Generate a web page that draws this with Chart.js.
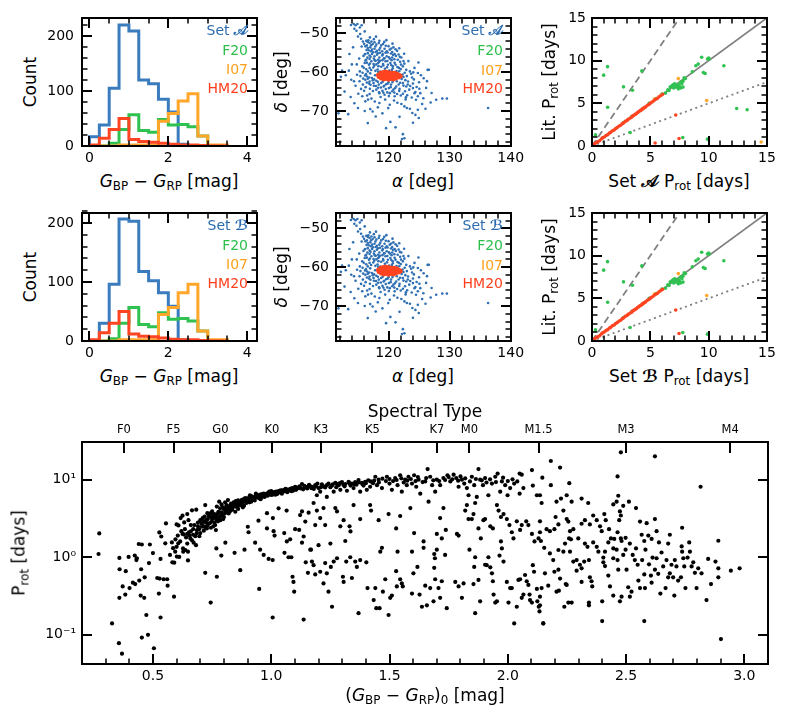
<!DOCTYPE html>
<html><head><meta charset="utf-8">
<script src="https://cdn.jsdelivr.net/npm/chart.js@4.4.1/dist/chart.umd.min.js"></script>
<style>
html,body{margin:0;padding:0;background:#fff;}
#wrap{position:relative;width:790px;height:725px;overflow:hidden;background:#fff;font-family:'DejaVu Sans',sans-serif;}
canvas{position:absolute;}
.t{position:absolute;white-space:nowrap;line-height:1;color:#000;font-size:17px;font-family:'DejaVu Sans',sans-serif;}
.c{transform:translate(-50%,-50%);}
.r{transform:translate(-100%,-50%);}
.v{transform:translate(-50%,-50%) rotate(-90deg);}
.lg{font-size:14px;}
.sc{font-family:'DejaVu Sans','DejaVu Serif','Noto Sans Math','Noto Sans',serif;font-weight:bold;}
sub{font-size:70%;vertical-align:-0.3em;line-height:0;}
.cb{color:#2b6cb0}.cg{color:#2cbf4b}.co{color:#ffa01c}.cr{color:#ff3f1c}
</style></head><body>
<div id="wrap">
<canvas id="hA" width="230" height="170" style="left:40px;top:0px"></canvas>
<canvas id="mA" width="240" height="170" style="left:290px;top:0px"></canvas>
<canvas id="pA" width="238" height="170" style="left:552px;top:0px"></canvas>
<canvas id="hB" width="230" height="170" style="left:40px;top:195px"></canvas>
<canvas id="mB" width="240" height="170" style="left:290px;top:195px"></canvas>
<canvas id="pB" width="238" height="170" style="left:552px;top:195px"></canvas>
<canvas id="bot" width="760" height="290" style="left:30px;top:410px"></canvas>

<div class="t v" style="left:30px;top:82px">Count</div>
<div class="t c" style="left:169px;top:181px"><i>G</i><sub>BP</sub> − <i>G</i><sub>RP</sub> [mag]</div>
<div class="t v" style="left:281px;top:82px"><i>δ</i> [deg]</div>
<div class="t c" style="left:423px;top:181px"><i>α</i> [deg]</div>
<div class="t v" style="left:549px;top:82px">Lit. P<sub>rot</sub> [days]</div>
<div class="t c" style="left:679px;top:181px">Set <span class="sc">𝒜</span> P<sub>rot</sub> [days]</div>
<div class="t r lg cb" style="left:248px;top:29.5px">Set <span class="sc">𝒜</span></div>
<div class="t r lg cg" style="left:248px;top:49.5px">F20</div>
<div class="t r lg co" style="left:248px;top:69px">I07</div>
<div class="t r lg cr" style="left:248px;top:87.5px">HM20</div>
<div class="t r lg cb" style="left:503px;top:30px">Set <span class="sc">𝒜</span></div>
<div class="t r lg cg" style="left:503px;top:50px">F20</div>
<div class="t r lg co" style="left:503px;top:70px">I07</div>
<div class="t r lg cr" style="left:503px;top:87.5px">HM20</div>

<div class="t v" style="left:30px;top:277px">Count</div>
<div class="t c" style="left:169px;top:376px"><i>G</i><sub>BP</sub> − <i>G</i><sub>RP</sub> [mag]</div>
<div class="t v" style="left:281px;top:277px"><i>δ</i> [deg]</div>
<div class="t c" style="left:423px;top:376px"><i>α</i> [deg]</div>
<div class="t v" style="left:549px;top:277px">Lit. P<sub>rot</sub> [days]</div>
<div class="t c" style="left:679px;top:376px">Set <span class="sc">ℬ</span> P<sub>rot</sub> [days]</div>
<div class="t r lg cb" style="left:248px;top:224.5px">Set <span class="sc">ℬ</span></div>
<div class="t r lg cg" style="left:248px;top:244.5px">F20</div>
<div class="t r lg co" style="left:248px;top:264px">I07</div>
<div class="t r lg cr" style="left:248px;top:282.5px">HM20</div>
<div class="t r lg cb" style="left:503px;top:225px">Set <span class="sc">ℬ</span></div>
<div class="t r lg cg" style="left:503px;top:245px">F20</div>
<div class="t r lg co" style="left:503px;top:265px">I07</div>
<div class="t r lg cr" style="left:503px;top:282.5px">HM20</div>

<div class="t c" style="left:425px;top:411px">Spectral Type</div>
<div class="t c" style="left:425px;top:695px">(<i>G</i><sub>BP</sub> − <i>G</i><sub>RP</sub>)<sub>0</sub> [mag]</div>
<div class="t v" style="left:19px;top:553px">P<sub>rot</sub> [days]</div>
</div>
<script>
// ---------------- DATA ----------------
const HIST_EDGES = [0,0.25,0.5,0.75,1,1.25,1.5,1.75,2,2.25,2.5,2.75,3,3.25,3.5];
const HIST_A_SET  = [17,38,105,220,209,120,113,85,62,3,0,0,0,0];
const HIST_A_F20  = [0,0,5,30,57,28,25,48,38,39,35,18,0,0];
const HIST_A_I07  = [0,0,0,2,2,2,2,45,59,82,95,18,2,2];
const HIST_A_HM20 = [2,14,30,50,12,8,7,5,3,2,2,1,0,0];
const HIST_B_SET  = [0,30,96,207,203,118,102,82,59,2,0,0,0,0];
const HIST_B_F20  = [0,0,4,30,57,28,24,48,37,38,34,17,0,0];
const HIST_B_I07  = [0,0,0,2,2,2,2,45,57,82,96,17,2,2];
const HIST_B_HM20 = [2,14,30,50,12,8,7,5,3,2,2,1,0,0];

// RA, Dec of the sample stars
const SET_RADEC_1 = [[114.3,-47.6],[114.6,-47.9],[114.9,-47.6],[115.3,-48.5],[115.6,-47.9],[114.4,-48.8],[116.1,-49.5],[115.0,-50.8],[115.5,-51.4],[115.8,-52.1],[116.35,-51.9],[116.6,-52.2],[116.9,-52.5],[117.2,-52.1],[117.4,-52.75],[117.7,-52.3],[118.0,-52.9],[118.4,-52.5],[118.8,-53.1],[119.1,-52.75],[116.2,-53.35],[116.6,-53.8],[117.0,-53.6],[117.3,-54.2],[117.7,-53.95],[118.1,-54.5],[118.5,-54.2],[118.97,-54.6],[119.35,-53.95],[119.7,-54.6],[120.2,-54.2],[120.6,-54.8],[121.0,-55.3],[116.6,-55.1],[116.9,-55.7],[117.3,-55.3],[117.7,-55.9],[118.1,-55.5],[118.5,-56.2],[118.97,-55.7],[119.35,-56.4],[119.7,-55.9],[120.2,-56.5],[120.6,-56.2],[121.5,-56.8],[122.1,-56.2],[116.35,-56.8],[116.1,-57.65],[115.7,-58.5],[115.3,-59.8],[116.8,-58.1],[117.2,-57.2],[117.55,-57.9],[117.9,-57.05],[118.3,-57.65],[118.6,-57.05],[119.1,-57.9],[119.5,-57.2],[119.9,-58.1],[120.3,-57.65],[120.7,-58.5],[121.15,-58.1],[121.7,-58.9],[122.35,-58.5],[122.9,-59.4],[123.5,-59.8],[124.25,-58.9],[124.8,-60.2],[125.3,-60.8],[126.4,-59.4],[116.9,-58.9],[116.6,-59.8],[116.5,-61.1],[116.2,-61.95],[116.9,-62.4],[117.3,-61.5],[117.55,-62.8],[118.0,-62.2],[118.4,-63.2],[118.8,-62.8],[119.2,-63.7],[119.6,-63.1],[120.05,-64.1],[120.4,-63.2],[120.8,-64.5],[121.25,-63.7],[121.8,-64.3],[122.35,-62.8],[122.9,-63.7],[123.4,-64.5],[124.0,-64.1],[124.4,-65.1],[124.8,-66.2],[125.2,-65.4],[125.7,-66.7],[124.5,-67.1],[118.0,-64.5],[118.5,-65.4],[119.35,-65.8],[120.2,-65.4],[121.0,-66.2],[115.8,-63.2],[115.5,-64.3],[115.7,-66.2],[116.5,-66.0],[116.9,-65.6],[116.2,-67.5],[113.9,-61.95],[113.5,-59.6],[115.0,-69.2],[113.4,-70.8],[116.6,-73.1],[117.4,-70.1],[117.9,-71.4],[119.6,-74.4],[121.15,-74.2],[122.35,-75.95],[122.6,-77.0],[122.2,-77.2],[122.6,-68.8],[123.0,-69.2],[123.5,-69.4],[124.4,-71.0],[124.95,-71.8],[126.05,-69.4],[124.25,-65.4],[124.8,-69.7],[127.8,-67.1],[128.8,-66.8],[129.55,-66.8],[136.3,-69.2],[126.6,-59.4],[122.1,-68.2],[120.2,-68.4],[118.5,-67.95],[111.8,-70.6],[114.0,-58.0],[112.4,-59.6]];
const SET_RADEC_2 = [[117.5,-58.8],[118.2,-59.3],[118.8,-58.6],[119.4,-59.1],[120.1,-59.6],[120.7,-59.0],[121.3,-59.7],[117.0,-60.3],[117.8,-60.8],[118.5,-61.4],[119.2,-62.0],[120.0,-62.6],[120.8,-62.0],[121.6,-61.3],[122.3,-60.6],[116.3,-60.5],[116.8,-62.9],[117.6,-63.5],[118.3,-64.0],[119.0,-64.8],[119.8,-65.2],[120.6,-64.9],[121.4,-65.6],[122.0,-66.0],[116.0,-64.8],[117.2,-66.8],[118.7,-66.4],[120.9,-67.3],[122.8,-67.0],[123.8,-66.5],[123.2,-62.4],[124.0,-62.9],[124.6,-63.8],[125.0,-62.6],[123.0,-61.0],[123.7,-60.4],[122.6,-57.8],[121.9,-57.3],[121.2,-55.8],[120.4,-55.2],[119.5,-55.0],[118.6,-55.0],[117.9,-54.8],[117.1,-54.6],[116.4,-54.3],[115.9,-55.8],[116.2,-57.0],[116.9,-56.6],[117.6,-56.5],[118.3,-56.8],[119.0,-56.9],[119.8,-57.1],[120.5,-56.9],[121.0,-57.6],[115.6,-53.4],[116.0,-52.7],[116.7,-51.8],[117.6,-51.5],[118.5,-51.9],[119.3,-52.2],[120.0,-53.3],[120.8,-53.6],[121.4,-54.5],[115.2,-56.5],[114.8,-58.0],[115.4,-61.0],[114.6,-63.5],[113.0,-60.8],[112.2,-61.2],[112.8,-65.0],[113.8,-66.4],[114.4,-68.0],[117.0,-69.5],[119.0,-70.6],[121.8,-71.5],[120.3,-72.8],[123.9,-70.5],[125.5,-68.2],[126.9,-67.8],[124.0,-73.0],[116.1,-70.0],[118.3,-59.9],[119.7,-60.3],[121.9,-62.7],[120.4,-61.9],[117.4,-62.1],[116.6,-61.7],[122.7,-64.9],[119.3,-63.5],[118.0,-58.0],[122.0,-59.2],[113.6,-55.3],[114.2,-53.6],[124.9,-57.5],[126.3,-62.3]];
const SET_RADEC_3 = [[116.45,-53.1],[117.15,-53.05],[117.85,-53.4],[118.65,-53.7],[119.55,-53.2],[120.45,-53.9],[121.15,-54.1],[116.75,-54.35],[117.45,-54.85],[118.25,-55.15],[119.05,-55.35],[119.85,-54.95],[120.75,-55.55],[121.65,-55.45],[116.15,-55.35],[116.55,-56.25],[117.05,-56.05],[117.75,-56.95],[118.45,-57.35],[119.25,-56.45],[120.05,-56.15],[120.95,-56.65],[121.85,-56.05],[122.45,-57.15],[116.45,-57.55],[116.95,-57.75],[117.65,-58.35],[118.35,-58.45],[119.15,-58.25],[119.75,-58.75],[120.45,-58.15],[121.45,-58.65],[122.05,-58.05],[115.95,-58.85],[116.35,-59.25],[117.15,-59.45],[117.85,-59.65],[118.65,-59.85],[120.55,-59.45],[121.75,-59.75],[122.65,-60.15],[115.75,-60.15],[116.15,-60.85],[116.85,-61.35],[117.65,-61.85],[118.25,-62.45],[119.05,-62.45],[119.85,-62.95],[120.65,-62.55],[121.35,-62.35],[122.15,-61.75],[122.75,-62.05],[115.85,-61.65],[116.45,-62.65],[117.05,-63.25],[117.95,-63.55],[118.75,-63.95],[119.55,-64.35],[120.35,-63.85],[121.05,-64.15],[121.65,-63.15],[122.45,-63.45],[123.15,-63.15],[116.25,-63.85],[116.95,-64.25],[117.45,-64.85],[118.45,-65.15],[119.15,-65.25],[120.05,-66.15],[120.95,-65.25],[121.75,-64.85],[122.35,-65.55],[123.05,-65.95],[123.55,-63.55],[124.15,-61.85],[123.85,-61.35],[122.45,-61.25],[115.25,-62.35],[114.85,-60.65],[114.35,-62.35],[115.05,-65.55],[116.65,-67.05],[117.75,-67.55],[119.45,-67.05],[121.45,-67.85],[119.95,-69.25],[118.25,-69.05],[116.95,-51.05],[115.35,-50.15],[114.75,-49.35],[113.85,-47.85],[117.95,-50.85],[119.65,-51.75],[120.65,-52.65],[121.75,-53.85],[122.55,-55.25],[123.25,-57.15],[124.05,-60.05],[125.75,-61.55],[126.15,-64.05],[127.05,-65.35],[125.05,-64.25],[122.85,-66.45]];
const SET_RADEC = SET_RADEC_1.concat(SET_RADEC_2, SET_RADEC_3);
const HM20_RADEC = [[118.6,-60.9],[118.9,-60.4],[119.0,-61.3],[119.3,-60.6],[119.5,-61.1],[119.7,-60.3],[119.9,-61.5],[120.1,-60.8],[120.3,-61.2],[120.5,-60.5],[120.7,-61.0],[120.9,-61.4],[121.1,-60.7],[121.3,-61.1],[121.5,-60.9],[118.8,-61.6],[119.2,-61.8],[119.6,-61.7],[120.0,-61.9],[120.4,-61.7],[120.8,-61.8],[121.2,-61.6],[119.1,-60.0],[119.5,-59.9],[119.9,-60.0],[120.3,-60.1],[120.7,-60.2],[121.0,-60.2],[118.4,-61.2],[121.7,-61.3],[121.8,-60.8],[118.7,-60.2],[119.4,-61.4],[119.8,-60.7],[120.2,-60.4],[120.6,-61.5],[121.0,-61.2],[122.0,-61.0],[118.3,-60.7],[121.4,-60.4]];

// [this work P_rot, literature P_rot]
const HM20_PROT_A = [[0.15,0.2],[0.25,0.3],[0.4,0.42],[0.5,0.5],[0.65,0.62],[0.8,0.82],[0.9,0.95],[1.05,1.05],[1.2,1.22],[1.35,1.33],[1.5,1.52],[1.6,1.6],[1.75,1.78],[1.9,1.88],[2.0,2.02],[2.15,2.15],[2.3,2.32],[2.45,2.43],[2.6,2.62],[2.7,2.7],[2.85,2.88],[3.0,2.98],[3.1,3.12],[3.25,3.25],[3.4,3.38],[3.5,3.55],[3.6,3.6],[3.7,3.72],[3.8,3.78],[3.9,3.92],[4.0,4.0],[4.1,4.12],[4.2,4.18],[4.3,4.32],[4.4,4.4],[4.5,4.52],[4.6,4.58],[4.75,4.77],[4.9,4.88],[5.0,5.02],[5.15,5.15],[5.3,5.3],[5.45,5.48],[5.6,5.58],[5.75,5.78],[5.9,5.92],[6.05,6.05],[0.1,0.05],[0.2,0.1],[7.18,3.64],[7.46,0.88],[5.41,0.36]];
const HM20_PROT_B = HM20_PROT_A.filter(p => p[0] !== 5.41);
const I07_PROT_A = [[7.4,7.9],[9.83,5.34],[14.5,0.47],[5.35,5.5],[4.4,4.45]];
const I07_PROT_B = [[7.4,7.9],[9.83,5.34],[5.35,5.5],[4.4,4.45]];
const F20_PROT_A = [[2.7,2.75],[3.4,3.45],[4.3,4.3],[4.9,5.0],[5.5,5.55],[6.0,6.1],[6.3,6.2],[6.5,6.6],[6.7,6.9],[6.9,7.1],[7.0,6.8],[7.1,7.3],[7.2,6.9],[7.3,7.0],[7.4,6.7],[7.5,7.0],[7.6,6.8],[7.7,7.3],[7.8,7.6],[7.9,8.0],[8.0,7.9],[7.4,7.2],[7.0,7.2],[6.8,7.0],[6.6,6.5],[7.6,7.5],[7.8,6.9],[8.6,8.7],[8.9,9.4],[9.1,9.6],[9.4,10.4],[9.55,8.6],[9.7,8.5],[9.9,10.2],[10.05,10.2],[10.0,10.3],[1.33,9.3],[1.0,8.3],[1.34,4.54],[2.7,6.93],[3.47,6.53],[4.27,8.8],[3.27,1.58],[0.3,1.3],[7.78,1.0],[9.9,0.8],[11.3,9.4],[12.4,4.4],[13.3,4.25]];
const F20_PROT_B = F20_PROT_A.filter(p => p[0] < 12);

// [(BP-RP)0, P_rot]
const STARS_FGK = [[0.273,2.03],[0.27,1.1],[0.327,0.14],[0.358,0.98],[0.359,0.70],[0.385,0.66],[0.397,1.01],[0.372,0.42],[0.383,0.33],[0.358,0.30],[0.401,0.40],[0.415,0.47],[0.425,0.45],[0.423,1.05],[0.432,0.97],[0.43,0.92],[0.44,1.48],[0.453,1.46],[0.442,0.50],[0.45,0.70],[0.465,0.55],[0.448,0.32],[0.463,0.30],[0.472,0.18],[0.356,0.078],[0.369,0.057],[0.453,0.092],[0.479,0.10],[0.504,0.067],[0.487,1.46],[0.483,0.84],[0.5,1.13],[0.532,0.95],[0.518,0.54],[0.528,0.53],[0.545,0.52],[0.56,0.52],[0.562,0.43],[0.525,0.34],[0.532,0.167],[0.589,0.31],[0.527,2.09],[0.535,1.85],[0.555,2.73],[0.552,1.51],[0.572,1.07],[0.582,0.86],[0.59,0.85],[0.585,1.31],[0.594,1.18],[0.6,1.36],[0.601,1.02],[0.607,1.51],[0.611,1.01],[0.6,2.65],[0.608,2.57],[0.617,3.2],[0.625,3.43],[0.632,2.81],[0.645,3.6],[0.65,3.0],[0.665,4.02],[0.683,4.1],[0.62,2.17],[0.63,1.97],[0.64,1.8],[0.645,2.0],[0.652,2.1],[0.658,1.75],[0.665,1.65],[0.672,1.54],[0.682,1.43],[0.627,1.3],[0.637,1.24],[0.648,1.18],[0.628,1.18],[0.648,0.91],[0.686,2.24],[0.696,1.87],[0.679,1.87],[0.707,2.47],[0.718,3.33],[0.724,2.81],[0.728,2.35],[0.732,3.1],[0.742,3.67],[0.721,4.71],[0.749,2.88],[0.756,3.22],[0.763,2.6],[0.766,2.24],[0.77,3.0],[0.777,3.86],[0.784,4.27],[0.78,5.2],[0.792,3.5],[0.797,3.1],[0.803,4.05],[0.811,4.71],[0.817,5.46],[0.82,3.67],[0.828,4.27],[0.834,4.7],[0.841,5.1],[0.848,3.86],[0.856,4.5],[0.862,5.2],[0.869,4.8],[0.876,5.5],[0.885,4.6],[0.89,5.3],[0.9,5.74],[0.908,5.1],[0.916,6.0],[0.924,5.5],[0.932,5.8],[0.941,6.34],[0.949,5.74],[0.961,6.5],[0.972,6.0],[0.982,6.6],[0.992,7.0],[1.003,6.34],[1.014,6.9],[1.024,6.5],[1.034,7.2],[1.045,6.6],[1.056,7.4],[1.068,6.9],[1.08,7.6],[1.092,7.2],[1.101,8.1],[1.115,7.8],[1.13,8.8],[1.141,7.9],[1.158,8.3],[1.169,7.8],
[0.721,0.63],[0.744,0.26],[0.77,0.56],[0.789,1.05],[0.768,1.3],[0.806,1.54],[0.845,1.14],[0.869,0.68],[0.887,1.25],[0.901,2.47],[0.904,2.1],[0.932,1.54],[0.946,2.96],[0.949,0.39],[0.953,1.25],[0.968,1.07],[0.982,2.35],[0.982,3.7],[0.989,0.95],[1.006,0.167],[1.006,0.92],[1.007,3.2],[1.01,2.17],[1.014,1.9],[1.031,4.27],[1.055,2.05],[1.056,1.14],[1.066,1.6],[1.073,1.0],[1.08,1.7],[1.09,0.56],[1.094,0.48],[1.097,0.36],[1.101,2.3],[1.118,2.25],[1.122,3.5],[1.13,1.54],[1.137,0.157],[1.137,1.85],[1.144,2.88],[1.146,0.86],[1.155,0.63],[1.158,3.75],[1.168,1.25],[1.085,1.0],[1.065,4.0],[1.13,3.9],
[0.70,3.0],[0.71,2.6],[0.735,2.7],[0.745,3.3],[0.755,2.5],[0.76,3.6],[0.775,2.9],[0.785,3.4],[0.795,4.4],[0.80,3.3],[0.81,3.9],[0.815,4.3],[0.825,3.9],[0.83,4.9],[0.835,4.1],[0.845,4.6],[0.85,5.3],[0.86,4.2],[0.865,4.9],[0.875,5.0],[0.88,4.4],[0.895,5.0],[0.905,5.5],[0.915,5.2],[0.92,5.9],[0.93,5.4],[0.94,6.0],[0.95,6.2],[0.955,5.6],[0.965,6.1],[0.975,6.5],[0.985,6.2],[0.995,6.6],[1.0,7.1],[1.01,6.6],[1.02,7.0],[1.03,6.8],[1.04,7.3],[1.05,7.0],[1.06,7.6],[1.07,7.2],[1.085,7.1],[1.095,7.7],[1.105,7.4],[1.12,8.2],[1.135,7.5],[1.15,8.0],[1.16,8.6],[0.67,2.3],[0.66,2.6],[0.69,2.5],[0.715,2.2],[0.73,3.7],[0.75,3.9],[0.77,4.5],[0.79,4.8],[0.805,5.1],[0.89,5.8],[0.91,6.3],[0.935,6.6]];
const STARS_BAND = [[0.58,1.55],[0.595,1.7],[0.605,1.9],[0.615,1.6],[0.625,2.0],[0.635,2.3],[0.645,1.5],[0.655,1.9],[0.66,2.15],[0.67,1.95],[0.675,2.6],[0.685,2.05],[0.69,2.8],[0.695,2.3],[0.70,2.05],[0.705,2.7],[0.71,3.2],[0.715,2.9],[0.72,2.45],[0.725,3.0],[0.73,2.55],[0.735,3.4],[0.74,2.75],[0.745,2.4],[0.75,3.1],[0.755,3.5],[0.76,2.8],[0.765,3.2],[0.77,3.45],[0.775,3.7],[0.78,3.2],[0.785,3.0],[0.79,3.8],[0.795,3.4],[0.80,4.2],[0.805,3.7],[0.81,4.5],[0.815,3.9],[0.82,4.3],[0.825,4.6],[0.83,4.1],[0.838,4.4],[0.843,5.0],[0.85,4.5],[0.855,4.8],[0.86,5.4],[0.868,4.7],[0.872,5.2],[0.88,5.1],[0.884,5.6],[0.893,5.2],[0.898,5.5],[0.906,5.8],[0.912,5.4],[0.918,6.1],[0.926,5.7],[0.933,6.1],[0.944,5.9],[0.953,6.4],[0.96,6.0],[0.968,6.6],[0.978,6.3],[0.988,6.8],[0.997,6.4],[1.007,6.8],[1.017,6.4],[1.027,7.0],[1.037,6.9],[1.047,7.3],[1.058,7.1],[1.065,7.5],[1.075,7.4],[1.088,7.8],[1.098,7.5],[1.11,7.9],[1.125,7.7],[1.14,8.3],[1.152,7.7],[1.165,8.2],[1.19,8.2],[1.21,8.0],[1.235,8.5],[1.26,8.7],[1.28,8.8],[1.305,8.6],[1.33,9.0],[1.35,8.7],[1.37,9.2],[1.385,8.8],[1.4,9.0],[1.42,9.5],[1.435,9.7],[1.455,9.2],[1.47,10.3],[1.485,9.6],[1.5,10.2],[1.515,9.6],[1.53,9.9],[1.55,10.4],[1.56,9.2],[1.575,9.7],[1.59,10.2],[1.61,9.6],[1.62,10.8],[1.64,9.3],[1.655,10.5],[1.685,9.8],[1.71,9.6],[1.735,9.9],[1.75,10.8],[1.765,10.1],[1.79,9.7],[1.8,11.0],[1.82,10.4],[1.84,9.5],[1.865,10.2],[1.89,9.8],[1.91,9.2],[1.925,10.1],[1.95,9.3],[1.98,10.6],[2.0,9.6],[2.02,10.1],[2.04,9.5]];
const STARS_K = [[1.172,8.1],[1.186,8.5],[1.2,7.8],[1.214,8.7],[1.228,7.95],[1.242,8.9],[1.257,8.4],[1.271,9.1],[1.285,8.5],[1.299,9.3],[1.313,8.8],[1.327,9.4],[1.341,8.9],[1.355,9.3],[1.369,9.9],[1.383,9.1],[1.397,9.4],[1.193,6.3],[1.207,7.0],[1.235,6.0],[1.264,7.0],[1.292,7.4],[1.32,7.2],[1.348,7.8],[1.376,7.0],[1.404,7.4],[1.418,8.1],[1.18,7.6],[1.195,8.9],[1.22,8.2],[1.25,8.0],[1.275,8.0],[1.29,9.0],[1.31,8.2],[1.335,8.4],[1.36,8.6],[1.39,8.4],[1.41,9.8],[1.43,9.0],
[1.44,10.9],[1.454,10],[1.447,8.5],[1.468,7.8],[1.489,10.9],[1.5,8.9],[1.51,7.4],[1.524,10.5],[1.534,8.5],[1.545,11.4],[1.552,7.0],[1.566,10],[1.573,8.5],[1.58,10.9],[1.595,8.9],[1.604,11.4],[1.613,8.1],[1.623,10],[1.63,6.6],[1.661,13.7],[1.651,9.5],[1.672,10.9],[1.68,8.5],[1.693,7.0],[1.7,10],[1.714,8.5],[1.728,10.5],[1.745,11.4],[1.757,9.5],[1.771,11.6],[1.782,10.5],[1.792,8.1],[1.806,10],[1.816,8.9],[1.827,7.8],[1.834,6.3],[1.848,10.9],[1.858,8.5],[1.869,6.0],[1.876,13.7],[1.883,10],[1.895,8.5],[1.904,10.5],[1.918,6.3],[1.933,8.9],[1.947,10.9],[1.957,12],[1.968,7.0],[1.975,9.5],[1.989,8.5],[1.999,6.3],[2.01,7.8],[2.027,8.9],[2.05,12],[2.059,11.6],[2.05,6.6],[2.066,7.8],[2.102,13.3],[2.106,8.4],[2.123,6.3],
[1.179,5.0],[1.193,4.0],[1.221,4.3],[1.207,3.2],[1.186,2.6],[1.228,2.6],[1.271,4.3],[1.278,3.9],[1.306,3.0],[1.292,2.5],[1.331,2.5],[1.335,2.15],[1.348,4.7],[1.376,3.1],[1.418,4.7],[1.422,4.0],[1.454,3.0],[1.496,3.6],[1.528,2.35],[1.545,3.4],[1.588,4.3],[1.604,2.05],[1.665,5.2],[1.7,2.0],[1.714,3.2],[1.721,1.75],[1.728,4.3],[1.738,2.25],[1.785,2.0],[1.792,1.9],[1.82,4.0],[1.827,4.7],[1.834,3.1],[1.848,3.1],[1.855,3.6],[1.862,5.0],[1.876,2.35],[1.886,1.75],[1.897,3.0],[1.904,3.1],[1.926,2.5],[1.937,2.35],[1.954,4.7],[1.961,4.0],[1.971,3.3],[1.982,3.6],[1.996,3.1],[2.007,2.6],[2.017,2.1],[2.024,1.75],[2.038,2.9],[2.052,2.25],[2.059,2.6],[2.078,2.9],[2.087,2.6],[2.102,2.0],[2.113,1.6],[2.13,1.75],
[1.165,1.25],[1.172,0.88],[1.186,0.6],[1.179,0.79],[1.2,1.43],[1.207,0.65],[1.221,0.46],[1.228,0.84],[1.235,0.62],[1.242,0.36],[1.25,1.5],[1.252,0.75],[1.257,0.23],[1.264,0.88],[1.278,0.97],[1.303,0.56],[1.306,0.48],[1.313,1.62],[1.317,0.88],[1.334,1.0],[1.341,0.54],[1.355,0.88],[1.362,0.75],[1.369,0.19],[1.376,0.92],[1.402,0.86],[1.407,0.4],[1.433,0.28],[1.44,0.4],[1.444,0.22],[1.458,0.22],[1.461,1.18],[1.468,1.32],[1.472,0.36],[1.482,0.52],[1.496,0.18],[1.503,0.3],[1.51,0.32],[1.528,0.66],[1.531,0.42],[1.534,1.18],[1.545,0.52],[1.552,0.46],[1.556,0.42],[1.595,1.18],[1.595,0.34],[1.601,0.62],[1.618,0.75],[1.627,0.33],[1.637,0.23],[1.644,1.6],[1.644,1.32],[1.651,0.43],[1.658,0.24],[1.672,0.4],[1.689,1.1],[1.692,0.97],[1.689,0.73],[1.686,0.27],[1.693,0.52],[1.7,1.25],[1.707,0.4],[1.714,0.3],[1.721,0.49],[1.735,1.07],[1.742,0.22],[1.778,0.48],[1.792,0.42],[1.806,0.3],[1.813,0.46],[1.838,1.25],[1.855,0.45],[1.858,0.75],[1.862,1.0],[1.862,0.19],[1.876,0.51],[1.883,0.27],[1.904,0.8],[1.911,0.79],[1.918,1.0],[1.926,0.74],[1.933,0.62],[1.937,0.49],[1.94,0.33],[1.947,0.26],[1.954,0.27],[1.965,1.05],[1.971,1.6],[1.975,1.3],[1.982,0.88],[1.996,0.48],[2.003,0.26],[2.01,0.4],[2.017,0.4],[2.027,0.14],[2.038,0.23],[2.045,0.51],[2.052,0.52],[2.059,0.3],[2.066,0.33],[2.073,0.59],[2.08,0.49],[2.087,0.44],[2.092,0.33],[2.094,0.28],[2.102,0.26],[2.106,0.79],[2.111,0.65],[2.123,0.39],[2.125,0.27],[2.131,0.23],[2.134,0.2],[2.15,0.14]];
const STARS_M = [[2.478,22.5],[2.622,20],[2.182,17.4],[2.221,14.3],[2.146,10.6],[2.464,11.0],[2.815,8.1],[2.182,8.5],[2.26,9.0],[2.136,6.3],[2.143,5.0],[2.206,5.2],[2.225,5.7],[2.249,6.3],[2.27,5.2],[2.312,5.7],[2.34,5.0],[2.446,4.8],[2.467,6.2],[2.46,5.2],[2.488,4.6],[2.512,5.2],[2.542,4.3],[2.474,3.9],[2.478,3.45],[2.471,3.0],[2.235,4.0],[2.136,2.9],[2.136,2.1],[2.164,2.3],[2.178,2.17],[2.197,2.3],[2.202,3.3],[2.214,2.65],[2.249,3.1],[2.256,2.88],[2.263,2.17],[2.277,2.3],[2.259,1.75],[2.267,1.7],[2.298,1.75],[2.312,2.7],[2.326,3.0],[2.347,2.65],[2.361,3.45],[2.376,3.0],[2.39,2.5],[2.397,2.17],[2.408,3.6],[2.414,3.0],[2.428,2.3],[2.436,1.75],[2.45,1.72],[2.464,2.1],[2.478,1.75],[2.498,1.78],[2.516,1.5],[2.559,2.88],[2.587,2.75],[2.622,3.1],[2.594,1.9],[2.608,1.72],[2.629,2.17],[2.566,1.95],[2.577,1.62],[2.685,1.95],[2.678,1.5],[2.737,2.4],[2.735,1.38],[2.767,1.55],[2.89,1.63],[2.14,1.62],[2.154,1.32],[2.178,1.12],[2.192,0.92],[2.214,1.24],[2.235,1.18],[2.242,1.5],[2.263,1.18],[2.214,0.69],[2.221,0.53],[2.197,0.65],[2.157,0.62],[2.171,0.43],[2.143,0.4],[2.136,0.31],[2.136,0.24],[2.206,0.36],[2.216,0.37],[2.245,0.45],[2.249,0.44],[2.239,0.23],[2.256,0.26],[2.27,0.26],[2.277,0.88],[2.291,0.92],[2.291,0.67],[2.305,0.8],[2.312,0.72],[2.323,0.88],[2.312,0.48],[2.343,0.92],[2.347,0.55],[2.354,0.49],[2.357,0.42],[2.343,0.26],[2.343,0.24],[2.337,1.36],[2.361,1.55],[2.376,1.36],[2.383,1.18],[2.404,0.99],[2.404,0.86],[2.411,0.77],[2.399,0.27],[2.399,0.15],[2.425,0.58],[2.432,0.42],[2.446,0.32],[2.446,1.3],[2.46,1.25],[2.464,0.92],[2.467,0.69],[2.474,0.27],[2.481,0.31],[2.488,1.07],[2.498,1.25],[2.502,0.69],[2.509,0.41],[2.516,0.31],[2.523,0.36],[2.528,1.07],[2.537,0.92],[2.542,1.3],[2.549,0.8],[2.552,0.5],[2.559,0.4],[2.568,0.92],[2.577,0.6],[2.58,0.4],[2.582,1.25],[2.597,0.81],[2.605,0.58],[2.608,0.47],[2.612,0.99],[2.622,0.69],[2.629,0.97],[2.636,0.61],[2.639,1.55],[2.645,0.34],[2.65,1.15],[2.657,0.76],[2.667,0.4],[2.671,0.92],[2.678,0.55],[2.685,0.62],[2.692,0.8],[2.699,0.55],[2.704,0.32],[2.706,0.92],[2.713,0.76],[2.72,0.5],[2.732,0.55],[2.737,1.18],[2.742,0.97],[2.746,0.76],[2.751,0.4],[2.76,0.99],[2.77,1.18],[2.777,0.76],[2.784,0.86],[2.791,0.63],[2.798,0.4],[2.805,0.72],[2.819,0.62],[2.84,0.28],[2.847,0.95],[2.859,0.45],[2.878,0.88],[2.89,0.72],[2.89,0.55],[2.901,0.088],[2.943,0.67],[2.98,0.72],[2.577,0.15],[2.15,0.14],[2.326,1.5],[2.411,1.18],[2.425,1.55],[2.481,1.62],[2.446,0.97]];
const BOTTOM_STARS = STARS_FGK.concat(STARS_BAND, STARS_K, STARS_M);

const SPT_POS = [0.377,0.587,0.785,1.003,1.21,1.428,1.70,1.838,2.13,2.50,2.94];
const SPT_NAMES = ['F0','F5','G0','K0','K3','K5','K7','M0','M1.5','M3','M4'];
const REF_SLOPES = [1, 2, 0.5];

// tick positions
const HIST_XMAJ = [0,2,4], HIST_XMIN = [0.5,1,1.5,2.5,3,3.5];
const HIST_YMAJ = [0,100,200], HIST_YMIN = [20,40,60,80,120,140,160,180,220];
const MAP_XMAJ = [120,130,140], MAP_XMIN = [112,114,116,118,122,124,126,128,132,134,136,138];
const MAP_YMAJ = [-50,-60,-70], MAP_YMIN = [-48,-52,-54,-56,-58,-62,-64,-66,-68,-72,-74,-76,-78];
const PR_MAJ = [0,5,10,15], PR_MIN = [1,2,3,4,6,7,8,9,11,12,13,14];
const BOT_XMAJ = [0.5,1.0,1.5,2.0,2.5,3.0];
const BOT_XMIN = [0.3,0.4,0.6,0.7,0.8,0.9,1.1,1.2,1.3,1.4,1.6,1.7,1.8,1.9,2.1,2.2,2.3,2.4,2.6,2.7,2.8,2.9];
const BOT_YMAJ = [0.1,1,10], BOT_YLAB = ['10\u207B\u00B9','10\u2070','10\u00B9'];

// ---------------- RENDER ----------------
const FONT = "'DejaVu Sans', sans-serif";
const C_BLUE = '#3a7cbd', C_BLUEPT = '#2f6fb3', C_GREEN = '#2fc250', C_ORANGE = '#ffa62b', C_RED = '#ff4422';
Chart.defaults.font.family = FONT;
Chart.defaults.color = '#000';
Chart.defaults.animation = false;

const inTicks = {
  id: 'inTicks',
  afterDraw(chart, args, o) {
    if (!o || !o.on) return;
    const ctx = chart.ctx, a = chart.chartArea, X = chart.scales.x, Y = chart.scales.y;
    ctx.save(); ctx.strokeStyle = '#000'; ctx.lineCap = 'butt';
    const MAJ = 10, MIN = 5.5;
    const segs = (list) => { ctx.beginPath(); list.forEach(s => { ctx.moveTo(s[0], s[1]); ctx.lineTo(s[2], s[3]); }); ctx.stroke(); };
    const xs = (vals, len, sides) => { const L = []; (vals||[]).forEach(v => { const p = Math.round(X.getPixelForValue(v)); if (sides.includes('b')) L.push([p, a.bottom, p, a.bottom - len]); if (sides.includes('t')) L.push([p, a.top, p, a.top + len]); }); return L; };
    const ys = (vals, len) => { const L = []; (vals||[]).forEach(v => { const p = Math.round(Y.getPixelForValue(v)); L.push([a.left, p, a.left + len, p]); L.push([a.right, p, a.right - len, p]); }); return L; };
    ctx.lineWidth = 2;
    segs([...xs(o.xMaj, MAJ, o.xSides), ...ys(o.yMaj, MAJ), ...xs(o.top, MAJ + 1, 't')]);
    ctx.lineWidth = 1.5;
    segs([...xs(o.xMin, MIN, o.xSides), ...ys(o.yMin, MIN)]);
    ctx.lineWidth = 2;
    ctx.strokeRect(a.left, a.top, a.right - a.left, a.bottom - a.top);
    ctx.restore();
  }
};
Chart.register(inTicks);

function fmtNum(v) { return (v < 0 ? '\u2212' : '') + Math.abs(v); }
function axis(o) {
  return {
    type: o.type || 'linear', position: o.position, min: o.min, max: o.max,
    grid: { display: false, drawTicks: false }, border: { display: false },
    afterBuildTicks: s => { s.ticks = o.ticks.map(v => ({ value: v })); },
    afterFit: s => { if (o.width !== undefined) s.width = o.width; if (o.height !== undefined) s.height = o.height; },
    ticks: { padding: o.pad, autoSkip: false, maxRotation: 0, minRotation: 0, color: '#000',
      font: { family: FONT, size: o.size || 14 },
      callback: o.labels ? ((v, i) => o.labels[i]) : (o.fmt || fmtNum) }
  };
}
function toXY(arr) { return arr.map(p => ({ x: p[0], y: p[1] })); }
function steps(counts) {
  const d = [{ x: HIST_EDGES[0], y: 0 }];
  counts.forEach((c, i) => d.push({ x: HIST_EDGES[i], y: c }));
  d.push({ x: HIST_EDGES[counts.length], y: 0 });
  return d;
}
function stepDs(counts, color, order) {
  return { data: steps(counts), showLine: true, stepped: true, borderColor: color, borderWidth: 3, pointRadius: 0, fill: false, order: order };
}
function dotDs(arr, color, r, order) {
  return { data: toXY(arr), backgroundColor: color, borderWidth: 0, pointRadius: r, pointHoverRadius: r, order: order };
}
function common(padRight, ticksOpt) {
  return { responsive: false, devicePixelRatio: 1, animation: false, events: [],
    layout: { padding: { left: 0, right: padRight, top: 18, bottom: 0 } },
    plugins: { legend: { display: false }, tooltip: { enabled: false }, inTicks: Object.assign({ on: true }, ticksOpt) } };
}

function histChart(id, set, f20, i07, hm20, ymax) {
  const opt = common(13, { xMaj: HIST_XMAJ, xMin: HIST_XMIN, xSides: 'bt', yMaj: HIST_YMAJ, yMin: HIST_YMIN });
  opt.scales = {
    x: axis({ position: 'bottom', min: -0.19, max: 4.25, ticks: HIST_XMAJ, pad: 4, height: 24 }),
    y: axis({ position: 'left', min: 0, max: ymax, ticks: HIST_YMAJ, pad: 8, width: 42 })
  };
  new Chart(document.getElementById(id), { type: 'scatter',
    data: { datasets: [stepDs(set, C_BLUE, 4), stepDs(f20, C_GREEN, 3), stepDs(i07, C_ORANGE, 2), stepDs(hm20, C_RED, 1)] }, options: opt });
}
function mapChart(id, pts, hm) {
  const opt = common(19, { xMaj: MAP_XMAJ, xMin: MAP_XMIN, xSides: 'bt', yMaj: MAP_YMAJ, yMin: MAP_YMIN });
  opt.scales = {
    x: axis({ position: 'bottom', min: 111.4, max: 140.05, ticks: MAP_XMAJ, pad: 4, height: 24 }),
    y: axis({ position: 'left', min: -79.0, max: -46.05, ticks: MAP_YMAJ, pad: 7, width: 46 })
  };
  new Chart(document.getElementById(id), { type: 'scatter',
    data: { datasets: [dotDs(pts, C_BLUEPT, 1.3, 2), dotDs(hm, C_RED, 2.2, 1)] }, options: opt });
}
function protChart(id, f20, i07, hm20) {
  const opt = common(23, { xMaj: PR_MAJ, xMin: PR_MIN, xSides: 'bt', yMaj: PR_MAJ, yMin: PR_MIN });
  opt.scales = {
    x: axis({ position: 'bottom', min: 0, max: 15, ticks: PR_MAJ, pad: 4, height: 24 }),
    y: axis({ position: 'left', min: 0, max: 15, ticks: PR_MAJ, pad: 6, width: 40 })
  };
  const styles = [[], [7, 4], [2, 3.5]];
  const refs = REF_SLOPES.map((m, i) => ({ data: [{ x: 0, y: 0 }, { x: 15, y: 15 * m }], showLine: true, borderColor: '#808080', borderWidth: 1.8, borderDash: styles[i], pointRadius: 0, order: 10 }));
  new Chart(document.getElementById(id), { type: 'scatter',
    data: { datasets: [...refs, dotDs(f20, C_GREEN, 1.8, 3), dotDs(i07, C_ORANGE, 1.8, 2), dotDs(hm20, C_RED, 1.8, 1)] }, options: opt });
}

histChart('hA', HIST_A_SET, HIST_A_F20, HIST_A_I07, HIST_A_HM20, 232.8);
histChart('hB', HIST_B_SET, HIST_B_F20, HIST_B_I07, HIST_B_HM20, 217);
mapChart('mA', SET_RADEC, HM20_RADEC);
mapChart('mB', SET_RADEC, HM20_RADEC);
protChart('pA', F20_PROT_A, I07_PROT_A, HM20_PROT_A);
protChart('pB', F20_PROT_B, I07_PROT_B, HM20_PROT_B);

(function () {
  const opt = common(22, { xMaj: BOT_XMAJ, xMin: BOT_XMIN, xSides: 'b', yMaj: BOT_YMAJ, yMin: [], top: SPT_POS });
  opt.layout.padding.top = 0;
  opt.scales = {
    x: axis({ position: 'bottom', min: 0.2, max: 3.1, ticks: BOT_XMAJ, pad: 4, height: 36, fmt: v => v.toFixed(1) }),
    x2: axis({ position: 'top', min: 0.2, max: 3.1, ticks: SPT_POS, labels: SPT_NAMES, pad: 5, height: 32, size: 11.5 }),
    y: axis({ type: 'logarithmic', position: 'left', min: 0.042, max: 30.6, ticks: BOT_YMAJ, labels: BOT_YLAB, pad: 6, width: 52 })
  };
  new Chart(document.getElementById('bot'), { type: 'scatter',
    data: { datasets: [dotDs(BOTTOM_STARS, '#000', 2.1, 1)] }, options: opt });
})();
</script>
</body></html>
